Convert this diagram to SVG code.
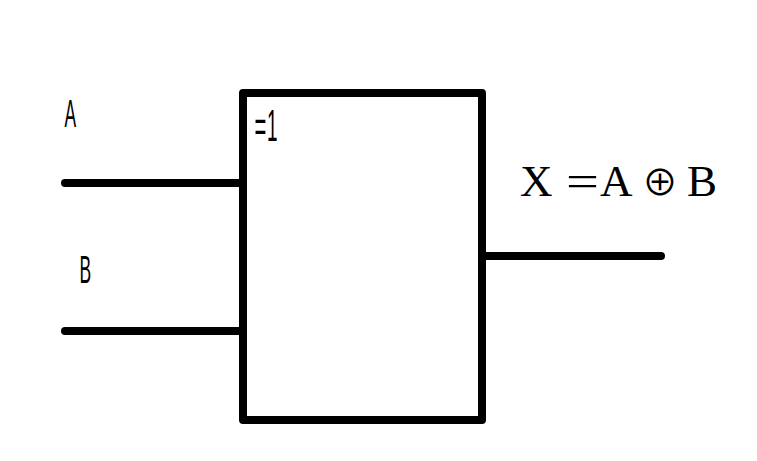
<svg xmlns="http://www.w3.org/2000/svg" width="757" height="461" viewBox="0 0 757 461">
<style>
.w{fill:none;stroke:#000;stroke-width:8;stroke-linecap:round;stroke-linejoin:round}
.c{font-family:"Liberation Sans",Arial,sans-serif;fill:#000}
.m{font-family:"Liberation Serif","Times New Roman",serif;font-size:45px;fill:#000}
.o{font-family:"Noto Sans CJK SC","DejaVu Sans",sans-serif;font-size:36px;fill:#000}
</style>
<rect width="757" height="461" fill="#fff"/>
<g id="connectors">
<path class="w" d="M65 183H243"/>
<path class="w" d="M65 331H243"/>
<path class="w" d="M482 256H661"/>
</g>
<g id="gate">
<rect class="w" x="243" y="93" width="239" height="327"/>
<text class="c" font-size="45" transform="translate(254.500 141) scale(.45 1)">=</text>
<text class="c" font-size="45" transform="translate(267 141) scale(.42 1)">1</text>
</g>
<g id="input-a"><text class="c" font-size="38" transform="translate(64.500 127) scale(.46 1)">A</text></g>
<g id="input-b"><text class="c" font-size="38" transform="translate(79.500 283) scale(.46 1)">B</text></g>
<g id="output-label"><text class="m" x="520" y="196">X</text>
<text class="m" transform="translate(566 196) scale(1.3 1)">=</text>
<text class="m" x="600" y="196">A</text>
<text class="o" x="642" y="196">⊕</text>
<text class="m" x="687" y="196">B</text></g>
</svg>
